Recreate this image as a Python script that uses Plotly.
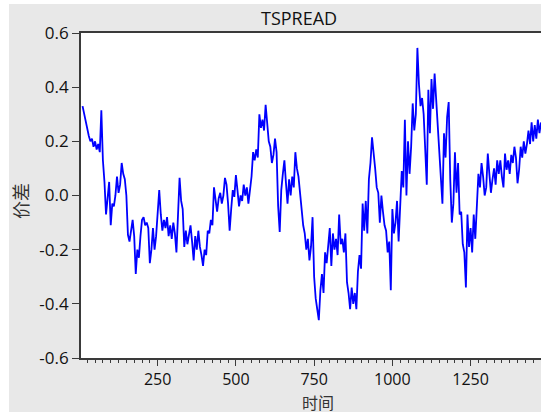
import plotly.graph_objects as go

# Series (time index step 5)
x_start = 10
x_step = 5
spread = [
    0.33, 0.30, 0.27, 0.24, 0.22, 0.20, 0.21, 0.18, 0.20, 0.17,
    0.19, 0.16, 0.315, 0.13, 0.05, -0.07, -0.01, 0.05, -0.11, -0.03,
    -0.04, 0.00, 0.07, 0.01, 0.04, 0.12, 0.08, 0.06, 0.00, -0.145,
    -0.17, -0.12, -0.09, -0.15, -0.29, -0.20, -0.23, -0.15, -0.09, -0.08,
    -0.11, -0.10, -0.12, -0.25, -0.20, -0.12, -0.20, -0.15, -0.04, 0.02,
    -0.07, -0.13, -0.09, -0.12, -0.08, -0.15, -0.11, -0.16, -0.10, -0.14,
    -0.21, -0.05, 0.065, -0.02, -0.05, -0.19, -0.13, -0.18, -0.14, -0.11,
    -0.17, -0.24, -0.15, -0.20, -0.13, -0.19, -0.22, -0.26, -0.20, -0.22,
    -0.13, -0.14, -0.09, -0.11, 0.03, -0.02, -0.06, -0.01, 0.01, -0.03,
    0.00, 0.065, 0.04, -0.03, -0.13, -0.05, 0.02, -0.005, 0.075, 0.02,
    -0.04, 0.00, -0.02, 0.04, 0.00, 0.03, -0.03, 0.02, 0.07, 0.16,
    0.13, 0.17, 0.14, 0.30, 0.25, 0.28, 0.24, 0.335, 0.26, 0.20,
    0.18, 0.12, 0.15, 0.21, 0.16, -0.04, -0.135, 0.02, 0.08, 0.13,
    0.045, -0.03, 0.06, 0.00, 0.07, 0.03, 0.16, 0.10, 0.07, 0.00,
    -0.04, -0.11, -0.14, -0.20, -0.16, -0.24, -0.19, -0.08, -0.30, -0.38,
    -0.42, -0.46, -0.35, -0.29, -0.36, -0.21, -0.25, -0.19, -0.12, -0.26,
    -0.14, -0.20, -0.16, -0.22, -0.07, -0.18, -0.16, -0.21, -0.14, -0.32,
    -0.36, -0.42, -0.34, -0.40, -0.36, -0.42, -0.28, -0.22, -0.27, -0.03,
    -0.13, -0.02, -0.14, 0.06, 0.12, 0.215, 0.14, 0.10, 0.03, 0.01,
    -0.10, 0.00, -0.06, -0.11, -0.13, -0.21, -0.17, -0.35, -0.05, -0.14,
    -0.10, -0.02, -0.17, -0.06, 0.09, 0.03, 0.28, 0.00, 0.20, 0.08,
    0.18, 0.34, 0.24, 0.30, 0.545, 0.41, 0.33, 0.36, 0.30, 0.17,
    0.04, 0.39, 0.23, 0.43, 0.32, 0.45, 0.35, 0.27, 0.16, 0.05,
    -0.03, 0.23, 0.14, 0.29, 0.345, 0.06, -0.10, -0.03, 0.16, 0.01,
    0.12, -0.07, -0.06, -0.18, -0.21, -0.34, -0.07, -0.19, -0.12, -0.21,
    -0.07, -0.16, -0.05, 0.08, 0.03, 0.12, 0.07, 0.00, 0.03, 0.155,
    0.08, 0.01, 0.06, 0.10, 0.04, 0.13, 0.08, 0.13, 0.07, 0.03,
    0.155, 0.095, 0.13, 0.08, 0.15, 0.12, 0.18, 0.14, 0.045, 0.095,
    0.18, 0.14, 0.20, 0.155, 0.19, 0.24, 0.19, 0.27, 0.20, 0.26,
    0.21, 0.28, 0.23, 0.27,
]
time_idx = [x_start + x_step * i for i in range(len(spread))]

y_tick_vals = [0.6, 0.4, 0.2, 0.0, -0.2, -0.4, -0.6]
y_tick_text = ["0.6", "0.4", "0.2", "0.0", "-0.2", "-0.4", "-0.6"]
x_tick_vals = [250, 500, 750, 1000, 1250]
x_tick_text = ["250", "500", "750", "1000", "1250"]

title_text = "TSPREAD"
x_title = "时间"
y_title = "价差"

W, H = 541, 413
L, R, T, B = 81, 0, 33, 55
pw, ph = W - L - R, H - T - B

def px_to_paper_x(px):
    return (px - L) / pw

def px_to_paper_y(py):
    return (H - B - py) / ph

fig = go.Figure()
fig.add_trace(go.Scatter(
    x=time_idx, y=spread, mode="lines",
    line=dict(color="#0000ff", width=1.8),
    showlegend=False, hoverinfo="skip",
))

axis_color = "#3a3a3a"
tick_font = dict(family="Open Sans", size=17, color="#111111")
xtick_font = dict(family="Open Sans", size=16, color="#111111")

fig.update_layout(
    width=W, height=H,
    margin=dict(l=L, r=R, t=T, b=B, pad=0),
    paper_bgcolor="#e8e8e8",
    plot_bgcolor="#ffffff",
    showlegend=False,
    xaxis=dict(
        range=[5, 1475],
        tickvals=x_tick_vals, ticktext=x_tick_text,
        ticks="outside", ticklen=6, tickwidth=1.3, tickcolor=axis_color,
        minor=dict(ticks="outside", ticklen=3, tickwidth=1, tickcolor=axis_color,
                   dtick=25, tick0=0, showgrid=False),
        showline=True, linecolor=axis_color, linewidth=1.8, mirror=True,
        showgrid=False, zeroline=False,
        tickfont=xtick_font,
    ),
    yaxis=dict(
        range=[-0.6, 0.6],
        tickvals=y_tick_vals, ticktext=y_tick_text,
        ticks="outside", ticklen=7, tickwidth=1.3, tickcolor=axis_color,
        showline=True, linecolor=axis_color, linewidth=1.8,
        showgrid=False, zeroline=False,
        tickfont=tick_font,
    ),
    shapes=[
        dict(type="rect", xref="paper", yref="paper",
             x0=px_to_paper_x(-2), x1=px_to_paper_x(9),
             y0=px_to_paper_y(H + 2), y1=px_to_paper_y(-2),
             fillcolor="#ffffff", line=dict(width=0), layer="above"),
        dict(type="rect", xref="paper", yref="paper",
             x0=px_to_paper_x(-2), x1=px_to_paper_x(W + 2),
             y0=px_to_paper_y(4), y1=px_to_paper_y(-2),
             fillcolor="#ffffff", line=dict(width=0), layer="above"),
        dict(type="rect", xref="paper", yref="paper",
             x0=px_to_paper_x(-2), x1=px_to_paper_x(W + 2),
             y0=px_to_paper_y(H + 2), y1=px_to_paper_y(412),
             fillcolor="#ffffff", line=dict(width=0), layer="below"),
    ],
    annotations=[
        dict(text=title_text, xref="paper", yref="paper",
             x=px_to_paper_x(299), y=px_to_paper_y(18),
             xanchor="center", yanchor="middle", showarrow=False,
             font=dict(family="Open Sans", size=18, color="#111111")),
        dict(text=x_title, xref="paper", yref="paper",
             x=px_to_paper_x(318), y=px_to_paper_y(402),
             xanchor="center", yanchor="middle", showarrow=False,
             font=dict(family="Noto Sans CJK SC", size=16, color="#333333")),
        dict(text=y_title, xref="paper", yref="paper",
             x=px_to_paper_x(20), y=px_to_paper_y(201),
             xanchor="center", yanchor="middle", showarrow=False, textangle=-90,
             font=dict(family="Noto Sans CJK SC", size=18, color="#333333")),
    ],
)

fig.write_html(
    "out.html",
    config={"displayModeBar": False},
    post_script="document.body.style.margin='0';document.body.style.overflow='hidden';",
)
